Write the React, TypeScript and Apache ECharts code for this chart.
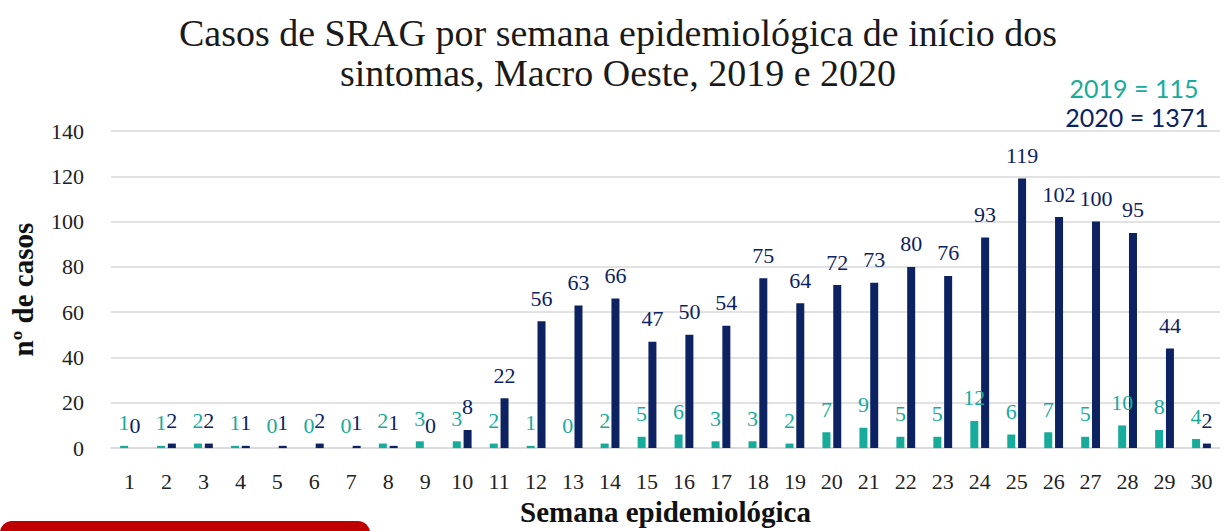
import React, { useEffect, useRef } from "react";
import * as echarts from "echarts";

const weeks = Array.from({ length: 30 }, (_, i) => String(i + 1));
const cases2019 = [1, 1, 2, 1, 0, 0, 0, 2, 3, 3, 2, 1, 0, 2, 5, 6, 3, 3, 2, 7, 9, 5, 5, 12, 6, 7, 5, 10, 8, 4];
const cases2020 = [0, 2, 2, 1, 1, 2, 1, 1, 0, 8, 22, 56, 63, 66, 47, 50, 54, 75, 64, 72, 73, 80, 76, 93, 119, 102, 100, 95, 44, 2];
const yTicks = [0, 20, 40, 60, 80, 100, 120, 140];

const TEAL = "#17ab9c";
const NAVY = "#0c2261";
const SERIF = "'Liberation Serif', 'DejaVu Serif', serif";

export default function App() {
  const ref = useRef<HTMLDivElement>(null);
  useEffect(() => {
    if (!ref.current) return;
    const chart = echarts.init(ref.current, null, { renderer: "svg" });
    chart.setOption({
      animation: false,
      backgroundColor: "#ffffff",
      title: {
        text: "Casos de SRAG por semana epidemiológica de início dos\nsintomas, Macro Oeste, 2019 e 2020",
        left: 613,
        textAlign: "center",
        top: 8,
        textStyle: { fontFamily: SERIF, fontSize: 38, fontWeight: "normal", color: "#1a1a1a", lineHeight: 40 },
      },
      graphic: [
        { type: "text", x: 1134, y: 88, style: { text: "2019 = 115", font: "25px Lato, 'Open Sans', sans-serif", fill: TEAL, textAlign: "center", textVerticalAlign: "middle" } },
        { type: "text", x: 1137, y: 117, style: { text: "2020 = 1371", font: "25px Lato, 'Open Sans', sans-serif", fill: NAVY, textAlign: "center", textVerticalAlign: "middle" } },
        { type: "rect", shape: { x: 0, y: 521, width: 370, height: 40, r: 12 }, style: { fill: "#c00000" } },
      ],
      grid: { left: 107, right: 8, top: 131, bottom: 80 },
      xAxis: {
        type: "category",
        data: weeks,
        name: "Semana epidemiológica",
        nameLocation: "middle",
        nameGap: 47,
        nameTextStyle: { fontFamily: SERIF, fontSize: 29, fontWeight: "bold", color: "#111" },
        axisLine: { lineStyle: { color: "#d9d9d9", width: 1.5 } },
        axisTick: { show: false },
        axisLabel: { fontFamily: SERIF, fontSize: 22, color: "#222", margin: 22 },
      },
      yAxis: {
        type: "value",
        min: 0,
        max: 140,
        interval: 20,
        name: "nº de casos",
        nameLocation: "middle",
        nameGap: 74,
        nameTextStyle: { fontFamily: SERIF, fontSize: 29, fontWeight: "bold", color: "#111" },
        axisLine: { show: false },
        axisTick: { show: false },
        axisLabel: { fontFamily: SERIF, fontSize: 22, color: "#222", margin: 27, customValues: yTicks },
        splitLine: { lineStyle: { color: "#d9d9d9", width: 1.5 } },
      },
      series: [
        {
          name: "2019",
          type: "bar",
          data: cases2019,
          barWidth: 8,
          barGap: "35%",
          itemStyle: { color: TEAL },
          label: { show: true, position: "top", distance: 12, fontFamily: SERIF, fontSize: 22, color: TEAL },
        },
        {
          name: "2020",
          type: "bar",
          data: cases2020,
          barWidth: 8,
          itemStyle: { color: NAVY },
          label: { show: true, position: "top", distance: 12, fontFamily: SERIF, fontSize: 22, color: NAVY },
        },
      ],
    });
    return () => chart.dispose();
  }, []);
  return <div ref={ref} style={{ width: 1228, height: 531, position: "absolute", left: 0, top: 0 }} />;
}
